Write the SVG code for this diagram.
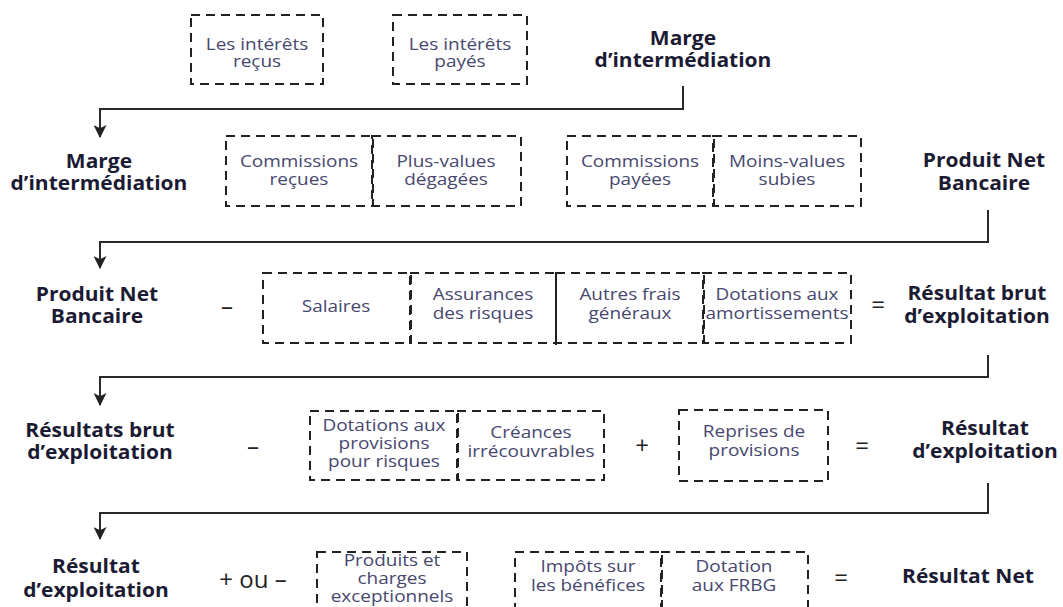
<svg xmlns="http://www.w3.org/2000/svg" width="1063" height="607" viewBox="0 0 1063 607">
<style>
.box{fill:none;stroke:#222;stroke-width:2;stroke-dasharray:9 6}
.solid{stroke:#222;stroke-width:2}
.bt{font-family:"Open Sans","DejaVu Sans",sans-serif;font-size:16.5px;fill:#47476f;text-anchor:middle;transform:scaleX(1.15);transform-box:fill-box;transform-origin:center}
.lb{font-family:"Open Sans","DejaVu Sans",sans-serif;font-weight:bold;font-size:20px;fill:#1b1b33;text-anchor:middle;transform:scaleX(1.05);transform-box:fill-box;transform-origin:center}
.op{font-family:"Open Sans","DejaVu Sans",sans-serif;font-size:24px;fill:#222;text-anchor:middle}
.conn{fill:none;stroke:#2a2a2a;stroke-width:2;marker-end:url(#arr)}
</style>
<defs>
<marker id="arr" viewBox="0 0 12 12" refX="11" refY="6" markerWidth="13" markerHeight="13" markerUnits="userSpaceOnUse" orient="auto">
<path d="M0,0 L12,6 L0,12 L3,6 Z" fill="#222"/>
</marker>
</defs>
<rect width="1063" height="607" fill="#fff"/>

<g id="connectors">
<path class="conn" d="M683,86 V109 H100 V137"/>
<path class="conn" d="M988,210 V242 H100 V268"/>
<path class="conn" d="M988,355 V377 H100 V405"/>
<path class="conn" d="M988,483 V513 H100 V539"/>
</g>

<!-- Row 1 -->
<g id="interets-recus">
<rect class="box" x="191" y="15" width="132" height="69"/>
<text class="bt" x="257" y="50">Les intérêts</text>
<text class="bt" x="257" y="67">reçus</text>
</g>
<g id="interets-payes">
<rect class="box" x="393" y="15" width="134" height="69"/>
<text class="bt" x="460" y="50">Les intérêts</text>
<text class="bt" x="460" y="67">payés</text>
</g>
<g id="marge1">
<text class="lb" x="683" y="45">Marge</text>
<text class="lb" x="683" y="67">d’intermédiation</text>
</g>

<!-- Row 2 -->
<g id="marge2">
<text class="lb" x="99" y="168">Marge</text>
<text class="lb" x="99" y="190">d’intermédiation</text>
</g>
<g id="commissions-recues">
<rect class="box" x="226" y="136" width="147" height="70"/>
<text class="bt" x="299" y="167">Commissions</text>
<text class="bt" x="299" y="185">reçues</text>
</g>
<g id="plus-values">
<rect class="box" x="372" y="136" width="149" height="70"/>
<text class="bt" x="446" y="167">Plus-values</text>
<text class="bt" x="446" y="185">dégagées</text>
</g>
<g id="commissions-payees">
<rect class="box" x="567" y="136" width="147" height="70"/>
<text class="bt" x="640" y="167">Commissions</text>
<text class="bt" x="640" y="185">payées</text>
</g>
<g id="moins-values">
<rect class="box" x="713" y="136" width="148" height="70"/>
<text class="bt" x="787" y="167">Moins-values</text>
<text class="bt" x="787" y="185">subies</text>
</g>
<g id="pnb1">
<text class="lb" x="984" y="167">Produit Net</text>
<text class="lb" x="984" y="190">Bancaire</text>
</g>

<!-- Row 3 -->
<g id="pnb2">
<text class="lb" x="97" y="301">Produit Net</text>
<text class="lb" x="97" y="323">Bancaire</text>
</g>
<g id="op3a"><text class="op" x="227" y="315">–</text></g>
<g id="salaires">
<rect class="box" x="263" y="273" width="148" height="70"/>
<text class="bt" x="336" y="312">Salaires</text>
</g>
<g id="assurances">
<rect class="box" x="410" y="273" width="146" height="70"/>
<text class="bt" x="483" y="300">Assurances</text>
<text class="bt" x="483" y="319">des risques</text>
</g>
<g id="autres-frais">
<rect class="box" x="556" y="273" width="148" height="70"/>
<line class="solid" x1="556" y1="272" x2="556" y2="345"/>
<text class="bt" x="630" y="300">Autres frais</text>
<text class="bt" x="630" y="319">généraux</text>
</g>
<g id="dotations-amort">
<rect class="box" x="703" y="273" width="148" height="70"/>
<text class="bt" x="777" y="300">Dotations aux</text>
<text class="bt" x="777" y="319">amortissements</text>
</g>
<g id="op3b"><text class="op" x="878" y="313">=</text></g>
<g id="rbe1">
<text class="lb" x="977" y="300">Résultat brut</text>
<text class="lb" x="977" y="323">d’exploitation</text>
</g>

<!-- Row 4 -->
<g id="rbe2">
<text class="lb" x="100" y="437">Résultats brut</text>
<text class="lb" x="100" y="459">d’exploitation</text>
</g>
<g id="op4a"><text class="op" x="253" y="455">–</text></g>
<g id="dotations-provisions">
<rect class="box" x="310" y="411" width="148" height="69"/>
<text class="bt" x="384" y="431">Dotations aux</text>
<text class="bt" x="384" y="449">provisions</text>
<text class="bt" x="384" y="467">pour risques</text>
</g>
<g id="creances">
<rect class="box" x="457" y="411" width="147" height="69"/>
<text class="bt" x="531" y="438">Créances</text>
<text class="bt" x="531" y="457">irrécouvrables</text>
</g>
<g id="op4b"><text class="op" x="642" y="454">+</text></g>
<g id="reprises">
<rect class="box" x="679" y="410" width="149" height="71"/>
<text class="bt" x="754" y="437">Reprises de</text>
<text class="bt" x="754" y="456">provisions</text>
</g>
<g id="op4c"><text class="op" x="862" y="454">=</text></g>
<g id="re1">
<text class="lb" x="985" y="435">Résultat</text>
<text class="lb" x="985" y="458">d’exploitation</text>
</g>

<!-- Row 5 -->
<g id="re2">
<text class="lb" x="96" y="573">Résultat</text>
<text class="lb" x="96" y="597">d’exploitation</text>
</g>
<g id="op5a"><text class="op" x="253" y="588">+ ou –</text></g>
<g id="exceptionnels">
<rect class="box" x="317" y="552" width="150" height="63"/>
<text class="bt" x="392" y="566">Produits et</text>
<text class="bt" x="392" y="584">charges</text>
<text class="bt" x="392" y="602">exceptionnels</text>
</g>
<g id="impots">
<rect class="box" x="515" y="552" width="147" height="63"/>
<text class="bt" x="588" y="572">Impôts sur</text>
<text class="bt" x="588" y="591">les bénéfices</text>
</g>
<g id="frbg">
<rect class="box" x="661" y="552" width="147" height="63"/>
<text class="bt" x="734" y="572">Dotation</text>
<text class="bt" x="734" y="591">aux FRBG</text>
</g>
<g id="op5b"><text class="op" x="841" y="586">=</text></g>
<g id="rn">
<text class="lb" x="968" y="583">Résultat Net</text>
</g>
</svg>
